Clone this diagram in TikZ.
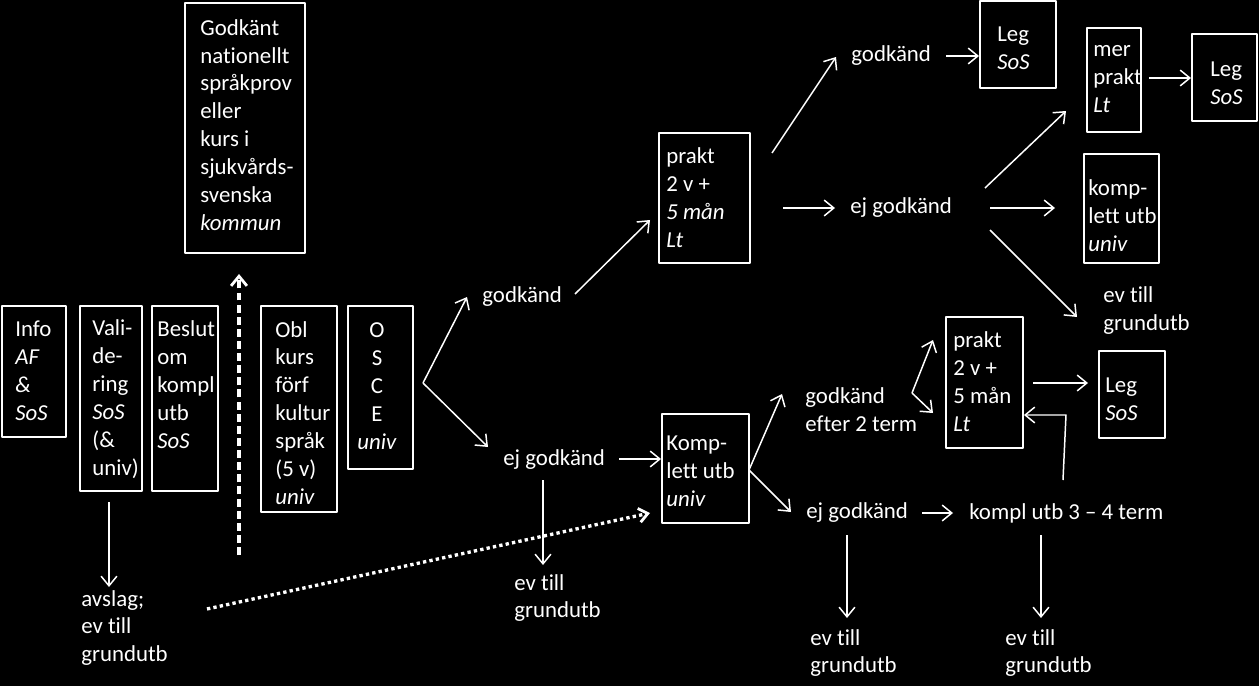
\documentclass[tikz,border=0pt]{standalone}
\usepackage{fontspec}
\setmainfont{Carlito}[Ligatures=NoCommon]
\usetikzlibrary{arrows.meta,fit}
\begin{document}
\begin{tikzpicture}[x=0.02cm, y=-0.02cm, line join=round,
  box/.style={draw=white, line width=1.1pt, inner sep=0pt},
  txt/.style={text=white, align=left, anchor=west, inner sep=0pt, font=\fontsize{13}{15.9}\selectfont},
  arr/.style={draw=white, line width=0.85pt, -{Straight Barb[length=5.5pt,width=9pt]}},
  dashedarr/.style={draw=white, line width=2.2pt, dash pattern=on 4.5pt off 2.4pt, -{Straight Barb[length=5.5pt,width=9pt,line width=1.6pt]}},
  dotarr/.style={draw=white, line width=1.9pt, dash pattern=on 1.9pt off 1.8pt, -{Straight Barb[length=5pt,width=8pt,line width=1.6pt]}}]
\useasboundingbox (0,0) rectangle (1259,686);
\fill[black] (0,0) rectangle (1259,686);
% boxes
\node[box, fit={(2,306) (66,437)}] (info) {};
\node[box, fit={(80,306) (142,491)}] (vali) {};
\node[box, fit={(152,306) (218,491)}] (beslut) {};
\node[box, fit={(185,3) (305,253)}] (sprak) {};
\node[box, fit={(261,306) (337,512)}] (obl) {};
\node[box, fit={(348,306) (413,469)}] (osce) {};
\node[box, fit={(659,133) (750,263)}] (prakt1) {};
\node[box, fit={(662,414) (749,523)}] (kompl1) {};
\node[box, fit={(980,1) (1056,88)}] (leg1) {};
\node[box, fit={(1087,28) (1141,132)}] (mer) {};
\node[box, fit={(1192,34) (1257,121)}] (leg2) {};
\node[box, fit={(1084,154) (1159,263)}] (kompl2) {};
\node[box, fit={(946,317) (1023,448)}] (prakt2) {};
\node[box, fit={(1099,351) (1165,438)}] (leg3) {};
% texts
\node[txt] (info-t) at (15,371) {Info\\\textit{AF}\\\textit{\&}\\\textit{SoS}};
\node[txt] (vali-t) at (92,399) {Vali-\\de-\\ring\\\textit{SoS}\\(\&\\univ)};
\node[txt] (beslut-t) at (157,385) {Beslut\\om\\kompl\\utb\\\textit{SoS}};
\node[txt] (sprak-t) at (200,125) {Godkänt\\nationellt\\språkprov\\eller\\kurs i\\sjukvårds-\\svenska\\\textit{kommun}};
\node[txt] (obl-t) at (275,413) {Obl\\kurs\\förf\\kultur\\språk\\(5 v)\\\textit{univ}};
\node[txt, align=center, anchor=center] (osce-t) at (377,386) {O\\S\\C\\E\\\textit{univ}};
\node[txt] (avslag) at (81,628) {avslag;\\ev till\\grundutb};
\node[txt] (godk1) at (482,297) {godkänd};
\node[txt] (ej1) at (503,460) {ej godkänd};
\node[txt] (ev1) at (514,598) {ev till\\grundutb};
\node[txt] (kompl1-t) at (666,471) {Komp-\\lett utb\\\textit{univ}};
\node[txt] (prakt1-t) at (666,198) {prakt\\2 v +\\\textit{5 mån}\\\textit{Lt}};
\node[txt] (godk2) at (851,56) {godkänd};
\node[txt] (ej2) at (850,208) {ej godkänd};
\node[txt] (leg1-t) at (997,48) {Leg\\\textit{SoS}};
\node[txt] (mer-t) at (1093,79) {mer\\prakt\\\textit{Lt}};
\node[txt] (leg2-t) at (1210,83) {Leg\\\textit{SoS}};
\node[txt] (kompl2-t) at (1088,216) {komp-\\lett utb\\\textit{univ}};
\node[txt] (ev2) at (1103,311) {ev till\\grundutb};
\node[txt] (efter) at (805,410) {godkänd\\efter 2 term};
\node[txt] (prakt2-t) at (953,382) {prakt\\2 v +\\5 mån\\\textit{Lt}};
\node[txt] (leg3-t) at (1105,399) {Leg\\\textit{SoS}};
\node[txt] (ej3) at (806,513) {ej godkänd};
\node[txt] (kompl3) at (969,513) {kompl utb 3 – 4 term};
\node[txt] (ev3) at (810,653) {ev till\\grundutb};
\node[txt] (ev4) at (1005,653) {ev till\\grundutb};
% arrow ends
\coordinate (osce-o) at (423,383);
\coordinate (godk1-i) at (467,297);
\coordinate (ej1-i) at (488,447);
\coordinate (godk1-o) at (575,294);
\coordinate (prakt1-i) at (650,220);
\coordinate (ej1-o) at (619,459);
\coordinate (ej1-d) at (543,480);
\coordinate (ev1-i) at (543,565);
\coordinate (vali-o) at (109,502);
\coordinate (avslag-i) at (109,587);
\coordinate (avslag-o) at (207,609);
\coordinate (kompl1-i) at (650,513);
\coordinate (dash-s) at (239,555);
\coordinate (dash-e) at (239,274);
\coordinate (kompl1-o) at (749,470);
\coordinate (efter-i) at (782,394);
\coordinate (ej3-i) at (791,512);
\coordinate (efter-o) at (912,393);
\coordinate (prakt2-a) at (933,340);
\coordinate (prakt2-b) at (933,413);
\coordinate (prakt2-o) at (1033,383);
\coordinate (leg3-i) at (1088,383);
\coordinate (kompl3-u) at (1063,480);
\coordinate (kompl3-k) at (1066,415);
\coordinate (ej3-o) at (922,513);
\coordinate (kompl3-i) at (953,513);
\coordinate (ej3-d) at (847,535);
\coordinate (ev3-i) at (847,618);
\coordinate (kompl3-d) at (1041,535);
\coordinate (ev4-i) at (1041,618);
\coordinate (prakt1-u) at (772,153);
\coordinate (godk2-i) at (836,57);
\coordinate (godk2-o) at (946,56);
\coordinate (mer-o) at (1149,78);
\coordinate (prakt1-o) at (783,208);
\coordinate (ej2-i) at (835,208);
\coordinate (ej2-u) at (985,188);
\coordinate (mer-i) at (1066,111);
\coordinate (ej2-o) at (990,208);
\coordinate (kompl2-i) at (1055,208);
\coordinate (ej2-d) at (990,230);
\coordinate (ev2-i) at (1077,317);
% connectors
\draw[arr] (osce-o) -- (godk1-i);
\draw[arr] (osce-o) -- (ej1-i);
\draw[arr] (godk1-o) -- (prakt1-i);
\draw[arr] (ej1-o) -- (ej1-o -| kompl1.west);
\draw[arr] (ej1-d) -- (ev1-i);
\draw[arr] (vali-o) -- (avslag-i);
\draw[dotarr] (avslag-o) -- (kompl1-i);
\draw[dashedarr] (dash-s) -- (dash-e);
\draw[arr] (kompl1-o) -- (efter-i);
\draw[arr] (kompl1-o) -- (ej3-i);
\draw[arr] (efter-o) -- (prakt2-a);
\draw[arr] (efter-o) -- (prakt2-b);
\draw[arr] (prakt2-o) -- (leg3-i);
\draw[arr] (kompl3-u) -- (kompl3-k) -- (kompl3-k -| prakt2.east);
\draw[arr] (ej3-o) -- (kompl3-i);
\draw[arr] (ej3-d) -- (ev3-i);
\draw[arr] (kompl3-d) -- (ev4-i);
\draw[arr] (prakt1-u) -- (godk2-i);
\draw[arr] (godk2-o) -- (godk2-o -| leg1.west);
\draw[arr] (mer-o) -- (mer-o -| leg2.west);
\draw[arr] (prakt1-o) -- (ej2-i);
\draw[arr] (ej2-u) -- (mer-i);
\draw[arr] (ej2-o) -- (kompl2-i);
\draw[arr] (ej2-d) -- (ev2-i);
\end{tikzpicture}
\end{document}
